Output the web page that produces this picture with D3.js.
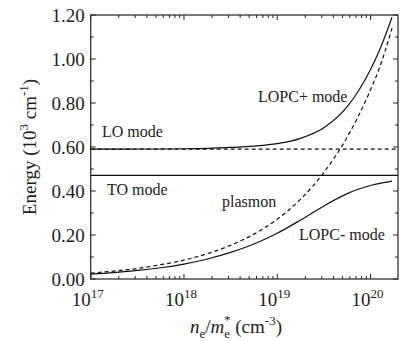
<!DOCTYPE html>
<html><head><meta charset="utf-8">
<script src="https://cdn.jsdelivr.net/npm/d3@7"></script>
<style>
html,body{margin:0;padding:0;background:#fff;}
svg{display:block;}
text{font-family:"Liberation Serif","Times New Roman",serif;fill:#222;}
</style></head>
<body>
<svg id="chart" width="400" height="341"></svg>
<script>
// ---- data ----
const density   = [1e17, 1.78e17, 3.16e17, 5.62e17, 1e18, 1.78e18, 3.16e18, 5.62e18, 1e19, 1.78e19, 3.16e19, 5.62e19, 7.5e19, 1e20, 1.26e20, 1.7e20];
const lopcPlus  = [0.590, 0.590, 0.591, 0.591, 0.592, 0.594, 0.598, 0.604, 0.615, 0.639, 0.687, 0.783, 0.858, 0.952, 1.044, 1.190];
const lopcMinus = [0.022, 0.029, 0.039, 0.051, 0.068, 0.091, 0.121, 0.159, 0.208, 0.268, 0.332, 0.388, 0.409, 0.425, 0.435, 0.445];
const plasmon   = [0.027, 0.036, 0.048, 0.065, 0.086, 0.115, 0.153, 0.204, 0.272, 0.363, 0.484, 0.645, 0.745, 0.860, 0.965, 1.140];
const loMode = 0.59;
const toMode = 0.471;
const yTicks = [0.0, 0.2, 0.4, 0.6, 0.8, 1.0, 1.2];
const xTickExp = [17, 18, 19, 20];

// ---- layout ----
const L = 90.7, R = 398, T = 15, B = 279;
const svg = d3.select("#chart");
const x = d3.scaleLog().domain([1e17, 1.97e20]).range([L, R]);
const y = d3.scaleLinear().domain([0, 1.2]).range([B, T]);

// minor ticks
const xMinor = [];
for (let e = 17; e <= 20; e++) for (let m = 2; m <= 9; m++) { const v = m * Math.pow(10, e); if (v <= 1.97e20) xMinor.push(v); }
const xMajor = xTickExp.map(e => Math.pow(10, e));
const yMinor = d3.range(0.1, 1.2, 0.2);

const g = svg.append("g");
// frame
g.append("rect").attr("x", L).attr("y", T).attr("width", R - L).attr("height", B - T)
  .attr("fill", "none").attr("stroke", "#222").attr("stroke-width", 1.2);

const tk = g.append("g").attr("stroke", "#222").attr("stroke-width", 1);
// bottom & top ticks
xMajor.forEach(v => {
  tk.append("line").attr("x1", x(v)).attr("x2", x(v)).attr("y1", B).attr("y2", B - 5);
  tk.append("line").attr("x1", x(v)).attr("x2", x(v)).attr("y1", T).attr("y2", T + 5);
});
xMinor.forEach(v => {
  tk.append("line").attr("x1", x(v)).attr("x2", x(v)).attr("y1", B).attr("y2", B - 3);
  tk.append("line").attr("x1", x(v)).attr("x2", x(v)).attr("y1", T).attr("y2", T + 3);
});
// left & right ticks
yTicks.forEach(v => {
  tk.append("line").attr("x1", L).attr("x2", L + 5).attr("y1", y(v)).attr("y2", y(v));
  tk.append("line").attr("x1", R).attr("x2", R - 5).attr("y1", y(v)).attr("y2", y(v));
});
yMinor.forEach(v => {
  tk.append("line").attr("x1", L).attr("x2", L + 3).attr("y1", y(v)).attr("y2", y(v));
  tk.append("line").attr("x1", R).attr("x2", R - 3).attr("y1", y(v)).attr("y2", y(v));
});

// y tick labels
g.selectAll(".ylab").data(yTicks).enter().append("text")
  .attr("x", L - 6).attr("y", d => y(d)).attr("dy", "0.35em")
  .attr("text-anchor", "end").attr("font-size", 19)
  .text(d => d.toFixed(2));

// x tick labels
xTickExp.forEach(e => {
  const t = g.append("text").attr("x", x(Math.pow(10, e)) - 3).attr("y", B + 27)
    .attr("text-anchor", "middle").attr("font-size", 19);
  t.append("tspan").text("10");
  t.append("tspan").attr("font-size", 13).attr("dy", -8).text(e);
});

// axis titles
const yt = g.append("text").attr("transform", `translate(36,${(T + B) / 2}) rotate(-90)`)
  .attr("text-anchor", "middle").attr("font-size", 19);
yt.append("tspan").text("Energy (10");
yt.append("tspan").attr("font-size", 13).attr("dy", -8).text("3");
yt.append("tspan").attr("dy", 8).text(" cm");
yt.append("tspan").attr("font-size", 13).attr("dy", -8).text("-1");
yt.append("tspan").attr("dy", 8).text(")");

const xt = g.append("text").attr("x", 236).attr("y", 333).attr("text-anchor", "middle").attr("font-size", 19);
xt.append("tspan").attr("font-style", "italic").text("n");
xt.append("tspan").attr("font-size", 13).attr("dy", 5).text("e");
xt.append("tspan").attr("dy", -5).text("/");
xt.append("tspan").attr("font-style", "italic").text("m");
xt.append("tspan").attr("font-size", 13).attr("dy", 5).text("e");
xt.append("tspan").attr("font-size", 13).attr("dy", -14).attr("dx", -6).text("*");
xt.append("tspan").attr("dy", 9).text(" (cm");
xt.append("tspan").attr("font-size", 13).attr("dy", -8).text("-3");
xt.append("tspan").attr("dy", 8).text(")");

// curves
const line = d3.line().x(d => x(d[0])).y(d => y(d[1])).curve(d3.curveMonotoneX);
const cp = g.append("g").attr("fill", "none").attr("stroke", "#111").attr("stroke-width", 1.2);
cp.append("path").attr("d", line(density.map((d, i) => [d, lopcPlus[i]])));
cp.append("path").attr("d", line(density.map((d, i) => [d, lopcMinus[i]])));
cp.append("path").attr("stroke-dasharray", "4,3").attr("d", line(density.map((d, i) => [d, plasmon[i]])));
cp.append("line").attr("x1", L).attr("x2", R).attr("y1", y(toMode)).attr("y2", y(toMode));
cp.append("line").attr("x1", L).attr("x2", R).attr("y1", y(loMode)).attr("y2", y(loMode)).attr("stroke-dasharray", "4,3");

// annotations
const ann = [["LO mode", 102, 137], ["TO mode", 107, 195], ["LOPC+ mode", 258, 102], ["plasmon", 222, 207], ["LOPC- mode", 299, 240]];
g.selectAll(".ann").data(ann).enter().append("text")
  .attr("x", d => d[1]).attr("y", d => d[2]).attr("font-size", 16).text(d => d[0]);
</script>
</body></html>
